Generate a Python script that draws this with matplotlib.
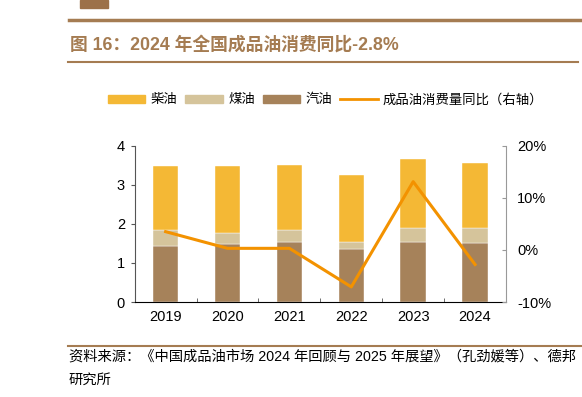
import numpy as np
import matplotlib.pyplot as plt
from matplotlib.patches import Patch, Rectangle
from matplotlib.lines import Line2D

plt.rcParams['font.family'] = ['Liberation Sans', 'Noto Sans CJK SC', 'DejaVu Sans']

####データ
years = ['2019', '2020', '2021', '2022', '2023', '2024']
gasoline = [1.44, 1.49, 1.53, 1.36, 1.53, 1.51]
kerosene = [0.40, 0.27, 0.30, 0.18, 0.37, 0.39]
diesel = [1.64, 1.72, 1.67, 1.70, 1.77, 1.67]
yoy = [3.5, 0.3, 0.3, -7.1, 13.1, -2.8]

c_diesel = '#F4B835'
c_kero = '#D5C49B'
c_gas = '#A6825A'
c_line = '#F39200'
c_brown = '#A57C52'


def plot():
    fig = plt.figure(figsize=(5.82, 3.97), dpi=100)

    ##ヘッダー・フッター
    fig.patches.append(Rectangle((80/582, 1-8/397), 28/582, 8/397, transform=fig.transFigure,
                                 color='#9C7149', zorder=5))
    fig.add_artist(Line2D([69/582, 1.0], [1-19.5/397]*2, color=c_brown, lw=2.5))
    fig.text(70/582, 1-44.5/397, '图 16：2024 年全国成品油消费同比-2.8%', fontsize=12.8,
             fontweight='bold', color=c_brown, va='center')
    fig.add_artist(Line2D([68/582, 578/582], [1-62/397]*2, color=c_brown, lw=1.5))
    fig.add_artist(Line2D([68/582, 1.0], [1-346/397]*2, color=c_brown, lw=1.5))
    fig.text(69/582, 1-357/397, '资料来源：《中国成品油市场 2024 年回顾与 2025 年展望》（孔劲媛等）、德邦',
             fontsize=10.3, va='center')
    fig.text(69/582, 1-380/397, '研究所', fontsize=10.3, va='center')

    ax = fig.add_axes([134.7/582, 1-302/397, 371.3/582, 156.3/397])
    x = np.arange(len(years))
    w = 0.41
    ax.bar(x, gasoline, w, color=c_gas, edgecolor='white', linewidth=0.3)
    ax.bar(x, kerosene, w, bottom=gasoline, color=c_kero, edgecolor='white', linewidth=0.3)
    bot = np.array(gasoline) + np.array(kerosene)
    ax.bar(x, diesel, w, bottom=bot, color=c_diesel, edgecolor='white', linewidth=0.3)
    ax.set_xlim(-0.5, 5.5)
    ax.set_ylim(0, 4)
    ax.set_yticks([0, 1, 2, 3, 4])
    ax.set_xticks(x)
    ax.set_xticklabels(years)
    ax.set_xticks(np.arange(0.5, 5.5, 1), minor=True)
    ax.tick_params(axis='x', which='major', length=0, labelsize=10.5, pad=6)
    ax.tick_params(axis='x', which='minor', length=3, direction='in', color='#555555')
    ax.tick_params(axis='y', length=3, direction='out', labelsize=10.5, pad=4, color='#555555')
    ax.spines['top'].set_visible(False)
    ax.spines['right'].set_visible(False)
    ax.spines['left'].set_color('#555555')

    ax2 = ax.twinx()
    ax2.plot(x, yoy, color=c_line, lw=2.2)
    ax2.set_ylim(-10, 20)
    ax2.set_yticks([-10, 0, 10, 20])
    ax2.set_yticklabels(['-10%', '0%', '10%', '20%'])
    ax2.tick_params(axis='y', length=3, direction='in', labelsize=10.5, pad=8, color='#999999')
    for s in ['top', 'left', 'bottom']:
        ax2.spines[s].set_visible(False)
    ax2.spines['right'].set_color('#999999')

    handles = [Patch(color=c_diesel), Patch(color=c_kero), Patch(color=c_gas),
               Line2D([], [], color=c_line, lw=2)]
    labels = ['柴油', '煤油', '汽油', '成品油消费量同比（右轴）']
    fig.legend(handles, labels, loc='center left', bbox_to_anchor=(96/582, 1-100/397), ncol=4,
               frameon=False, fontsize=9.6, handlelength=2.8, handleheight=0.55,
               columnspacing=0.6, handletextpad=0.4)

    fig.savefig('out.png', dpi=100)


if __name__ == "__main__":
    plot()
